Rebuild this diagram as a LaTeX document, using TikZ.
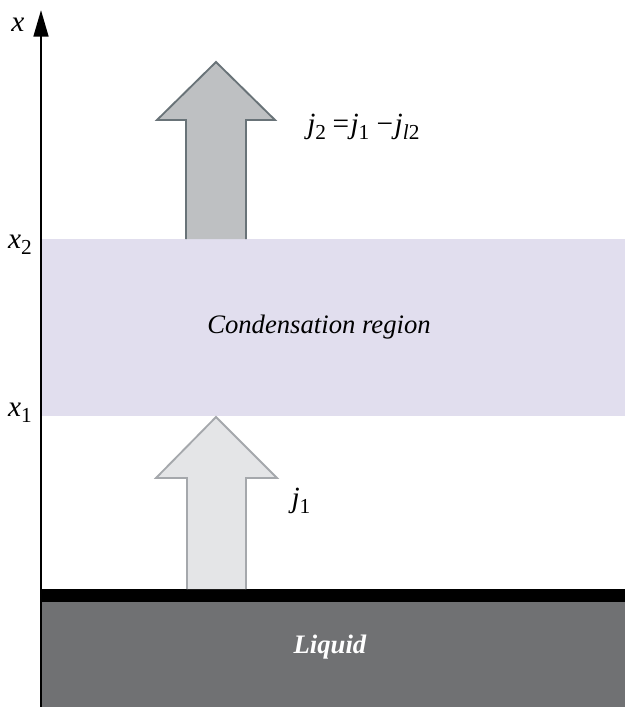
\documentclass[tikz,border=0pt]{standalone}
\usepackage{fontspec}
\setmainfont{Liberation Serif}
\usetikzlibrary{arrows.meta}
\definecolor{regioncol}{RGB}{225,222,238}
\definecolor{liquidcol}{RGB}{112,113,115}
\definecolor{topfill}{RGB}{190,192,194}
\definecolor{topdraw}{RGB}{105,115,120}
\definecolor{botfill}{RGB}{228,229,231}
\definecolor{botdraw}{RGB}{165,168,172}
\newcommand\mysub[1]{\raisebox{-0.22em}{\fontsize{16}{16}\selectfont\upshape #1}}
\tikzset{
  lbl/.style={font=\fontsize{20}{24}\selectfont, inner sep=0pt},
  mlbl/.style={font=\fontsize{22}{26}\selectfont, inner sep=0pt},
  fatarrow/.style={line width=1.4pt, line join=miter},
}
\begin{document}
\begin{tikzpicture}[x=0.75pt,y=-0.75pt]
\useasboundingbox (0,0) rectangle (625,707);
% region
\fill[regioncol] (41,239) rectangle (625,416);
\node[lbl] (reg) at (319,327) {\itshape Condensation region};
% liquid
\fill[liquidcol] (41,602) rectangle (625,707);
\fill[black] (41,589) rectangle (625,602);
\node[lbl, text=white] (liq) at (330,647) {\bfseries\itshape Liquid};
% top arrow
\draw[fatarrow, fill=topfill, draw=topdraw] (186,239) -- (186,120) -- (157,120) -- (216,62) -- (275,120) -- (246,120) -- (246,239);
% bottom arrow
\draw[fatarrow, fill=botfill, draw=botdraw] (187,589) -- (187,478) -- (156,478) -- (216,417) -- (277,478) -- (246,478) -- (246,589);
% axis
\coordinate (a0) at (41,707);
\coordinate (a1) at (41,10);
\draw[line width=2pt, -{Triangle[length=20pt,width=11pt]}] (a0) -- (a1);
% labels
\node[mlbl, anchor=base] (xl) at (18,31) {\itshape x};
\node[mlbl, anchor=base] (x2) at (20,248) {\itshape x\mysub{2}};
\node[mlbl, anchor=base] (x1) at (20,416) {\itshape x\mysub{1}};
\node[mlbl, anchor=base] (j1) at (301,507) {\itshape j\mysub{1}};
\node[mlbl, anchor=base west] (j2) at (307,133) {\itshape j\mysub{2}\hspace{0.22em}\upshape=\hspace{0.05em}\itshape j\mysub{1}\hspace{0.25em}\upshape −\hspace{0.05em}\itshape j\mysub{\itshape l\upshape 2}};
\end{tikzpicture}
\end{document}
